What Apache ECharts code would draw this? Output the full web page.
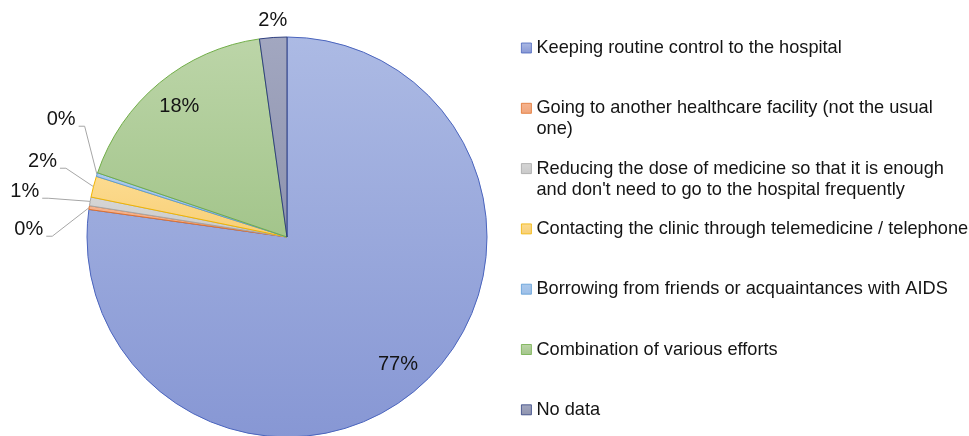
<!DOCTYPE html>
<html>
<head>
<meta charset="utf-8">
<script src="https://cdn.jsdelivr.net/npm/echarts@6/dist/echarts.min.js"></script>
<style>
  html, body { margin: 0; padding: 0; background: #fff; }
  #chart { width: 969px; height: 436px; }
</style>
</head>
<body>
<div id="chart"></div>
<script>
// categories (legend text, wrapped like the original)
var categories = [
  "Keeping routine control to the hospital",
  "Going to another healthcare facility (not the usual\none)",
  "Reducing the dose of medicine so that it is enough\nand don't need to go to the hospital frequently",
  "Contacting the clinic through telemedicine / telephone",
  "Borrowing from friends or acquaintances with AIDS",
  "Combination of various efforts",
  "No data"
];
// share of respondents, %
var shares = [77.2, 0.3, 0.7, 1.7, 0.3, 17.6, 2.2];

// colours
var fillTop = ["#acbae4", "#f6b48f", "#d6d6d6", "#fcdb90", "#abc9ec", "#bcd5a8", "#a2a7c0"];
var fillBottom = ["#8797d4", "#f0a57c", "#c9c9c9", "#f8cf76", "#9dbfe8", "#a3c58b", "#8e93ae"];
var edgeColors = ["#4a64bd", "#e0712c", "#a5a5a5", "#f0b400", "#5b9bd5", "#70ad47", "#2f3f7f"];

var CX = 287, CY = 237, R = 200;
var FONT = "'Liberation Sans', Arial, sans-serif";
var TEXT = "#141414";

// nudges for the outside labels of the thin slices, as in the original
var labelShift = { 1: [-15, -55], 2: [-14, -55], 3: [2, -47], 4: [12, -51], 6: [40, -3] };

var chart = echarts.init(document.getElementById("chart"));

var insideIdx = [0, 5];

var seriesData = categories.map(function (name, i) {
  var item = {
    name: name,
    value: shares[i],
    itemStyle: {
      color: new echarts.graphic.LinearGradient(0, 0, 0, 1, [
        { offset: 0, color: fillTop[i] },
        { offset: 1, color: fillBottom[i] }
      ]),
      borderColor: edgeColors[i],
      borderWidth: 1
    }
  };
  if (insideIdx.indexOf(i) >= 0) {
    item.label = { position: "inside" };
    item.labelLine = { show: false };
  }
  if (i === 6) {
    item.label = { lineHeight: 24 };
    item.labelLine = { show: false };
  }
  return item;
});

// legends, one per item so the first lines sit on an even pitch
var legends = categories.map(function (name, i) {
  var lines = name.split("\n").length;
  var yc = 48 + i * 60.3;
  return {
    data: [name],
    orient: "vertical",
    left: 521,
    top: yc - 10.5 - 21 * (lines - 1),
    padding: 0,
    itemWidth: 10,
    itemHeight: 10,
    icon: "rect",
    selectedMode: false,
    itemStyle: { borderWidth: 0.8 },
    // blank leading lines keep the icon level with the first text line
    formatter: function (n) {
      return new Array(lines).join("\n") + n;
    },
    textStyle: {
      fontFamily: FONT,
      fontSize: 18.2,
      lineHeight: 21,
      color: TEXT
    }
  };
});

var option = {
  animation: false,
  legend: legends,
  series: [
    {
      type: "pie",
      center: [CX, CY],
      radius: R,
      startAngle: 90,
      clockwise: true,
      avoidLabelOverlap: true,
      data: seriesData,
      label: {
        show: true,
        position: "outside",
        formatter: "{d}%",
        fontFamily: FONT,
        fontSize: 20,
        color: TEXT,
        lineHeight: 36
      },
      percentPrecision: 0,
      labelLine: {
        show: true,
        length: 14,
        length2: 20,
        smooth: false,
        lineStyle: { color: "#a6a6a6", width: 1 }
      },
      labelLayout: function (p) {
        var r = p.labelRect;
        if (insideIdx.indexOf(p.dataIndex) >= 0) {
          var lx = r.x + r.width / 2;
          var ly = r.y + r.height / 2;
          var k = 0.82 / 0.5;
          return { x: CX + (lx - CX) * k, y: CY + (ly - CY) * k };
        }
        var s = labelShift[p.dataIndex];
        if (!s) return {};
        var out = { dx: s[0], dy: s[1] };
        if (p.labelLinePoints) {
          // leader line: slice edge -> short horizontal stub at the label's right
          var edge = p.labelLinePoints[0];
          var ax = r.x + r.width + s[0] + 3;
          var ay = r.y + r.height / 2 + s[1] + 7;
          out.labelLinePoints = [[edge[0], edge[1]], [ax + 6, ay], [ax, ay]];
        }
        return out;
      },
      emphasis: { disabled: true }
    }
  ]
};

chart.setOption(option);
</script>
</body>
</html>
